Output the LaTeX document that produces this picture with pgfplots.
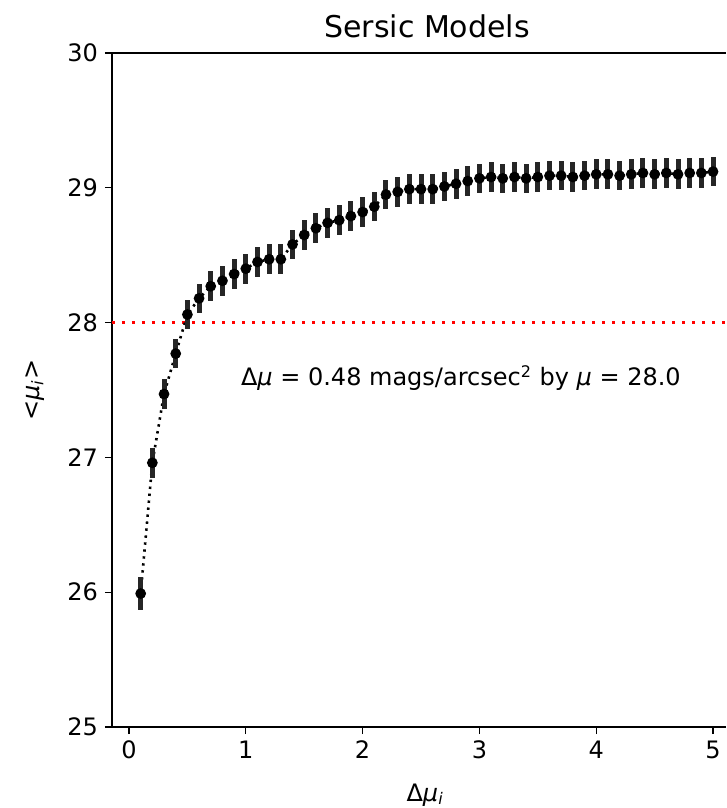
\documentclass[border=0pt]{standalone}
\usepackage{fontspec}
\setmainfont{DejaVu Sans}
\usepackage{pgfplots}
\pgfplotsset{compat=1.18}
\usepackage{pgfplotstable}

% mean surface brightness vs. offset, Sersic models
\pgfplotstableread{
x    y      e
0.1  25.99  0.12
0.2  26.96  0.11
0.3  27.47  0.11
0.4  27.77  0.11
0.5  28.06  0.11
0.6  28.18  0.11
0.7  28.27  0.11
0.8  28.31  0.11
0.9  28.36  0.11
1.0  28.40  0.11
1.1  28.45  0.11
1.2  28.47  0.11
1.3  28.47  0.11
1.4  28.58  0.11
1.5  28.65  0.11
1.6  28.70  0.11
1.7  28.74  0.11
1.8  28.76  0.11
1.9  28.79  0.11
2.0  28.82  0.11
2.1  28.86  0.11
2.2  28.95  0.11
2.3  28.97  0.11
2.4  28.99  0.11
2.5  28.99  0.11
2.6  28.99  0.11
2.7  29.01  0.11
2.8  29.03  0.11
2.9  29.05  0.11
3.0  29.07  0.11
3.1  29.08  0.11
3.2  29.07  0.11
3.3  29.08  0.11
3.4  29.07  0.11
3.5  29.08  0.11
3.6  29.09  0.11
3.7  29.09  0.11
3.8  29.08  0.11
3.9  29.09  0.11
4.0  29.10  0.11
4.1  29.10  0.11
4.2  29.09  0.11
4.3  29.10  0.11
4.4  29.11  0.11
4.5  29.10  0.11
4.6  29.11  0.11
4.7  29.10  0.11
4.8  29.11  0.11
4.9  29.11  0.11
5.0  29.12  0.11
}\sersic

\begin{document}
\begin{tikzpicture}
\begin{axis}[
    name=ax,
    scale only axis,
    width=307pt, height=337pt,
    xmin=-0.1455, xmax=5.111,
    ymin=25, ymax=30,
    axis x line*=box, axis y line*=left,
    xtick={0,1,2,3,4,5}, ytick={25,26,27,28,29,30},
    xtick pos=left,
    tick align=outside,
    major tick length=3.5pt,
    tick style={black, line width=0.6pt},
    axis line style={black, line width=0.8pt},
    ticklabel style={font=\fontsize{12}{14}\selectfont},
    /pgf/number format/assume math mode=true,
    title={Sersic Models},
    title style={font=\fontsize{15}{18}\selectfont, at={(axis description cs:0.513,1)}, anchor=base, yshift=1.5pt},
    xlabel={\textup{Δ}\textit{μ}\textsubscript{\textit{i}}},
    xlabel style={font=\fontsize{12}{14}\selectfont, at={(axis description cs:0.51,0)}, anchor=base, yshift=-37pt},
    ylabel={<\textit{μ}\textsubscript{\textit{i}}>},
    ylabel style={font=\fontsize{12}{14}\selectfont, at={(axis description cs:0,0.5)}, anchor=center, yshift=38.5pt},
]
\addplot[red, line width=1.5pt, dash pattern=on 1.5pt off 3.5pt, forget plot]
    coordinates {(-0.1455,28) (5.111,28)};
\addplot[black, line width=1.3pt, dash pattern=on 1.2pt off 2.3pt,
    mark=*, mark size=2pt, mark options={solid, fill=black, draw=none},
    error bars/.cd, y dir=both, y explicit, error mark=none,
    error bar style={solid, line width=2.5pt, black!85}]
    table[x=x, y=y, y error=e] {\sersic};
\node[anchor=base west, inner sep=0pt, font=\fontsize{12}{14}\selectfont]
    at (axis cs:0.956,27.53)
    {\textup{Δ}\textit{μ} = 0.48 mags/arcsec\textsuperscript{2} by \textit{μ} = 28.0};
\end{axis}
\pgfresetboundingbox
\path[use as bounding box] ([shift={(-56pt,-40.5pt)}]ax.south west) rectangle ([shift={(0pt,26.5pt)}]ax.north east);
\end{tikzpicture}
\end{document}
